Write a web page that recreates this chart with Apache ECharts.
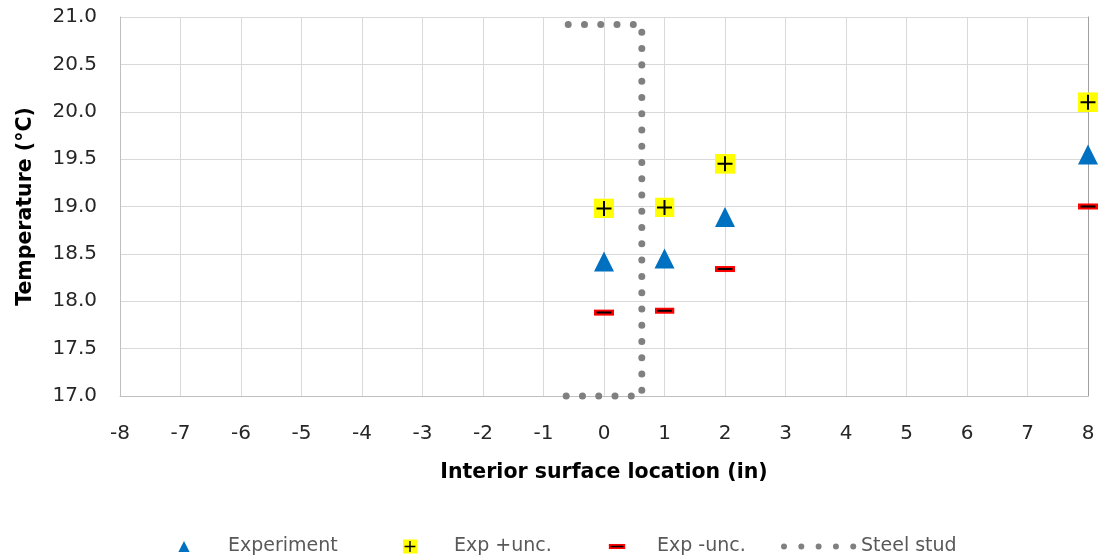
<!DOCTYPE html>
<html>
<head>
<meta charset="utf-8">
<script src="https://cdn.jsdelivr.net/npm/echarts@6/dist/echarts.min.js"></script>
<style>
  html, body { margin: 0; padding: 0; background: #ffffff; }
  #chart { width: 1099px; height: 558px; }
</style>
</head>
<body>
<div id="chart"></div>
<script>
// ---- data ----
const xLocations = [0, 1, 2, 8];
const experiment = [18.42, 18.45, 18.89, 19.55];
const expPlusUnc = [18.98, 18.99, 19.45, 20.10];
const expMinusUnc = [17.88, 17.90, 18.34, 19.00];
const studX = [-0.625, 0.625, 0.625, -0.625];
const studY = [17.0, 17.0, 20.92, 20.92];
const xTicks = [-8, -7, -6, -5, -4, -3, -2, -1, 0, 1, 2, 3, 4, 5, 6, 7, 8];
const yTicks = [17.0, 17.5, 18.0, 18.5, 19.0, 19.5, 20.0, 20.5, 21.0];
const seriesNames = ['Experiment', 'Exp +unc.', 'Exp -unc.', 'Steel stud'];

// ---- symbols ----
function svgSym(svg) {
  return 'image://data:image/svg+xml;charset=utf-8,' + encodeURIComponent(svg);
}
const plusSym = svgSym("<svg xmlns='http://www.w3.org/2000/svg' width='20' height='20' viewBox='0 0 20 20'><rect x='0' y='0' width='20' height='20' fill='#FFFF00'/><path d='M10 2.5V17.5M2.5 10H17.5' stroke='#000000' stroke-width='2' fill='none'/></svg>");
const minusSym = svgSym("<svg xmlns='http://www.w3.org/2000/svg' width='20' height='20' viewBox='0 0 20 20'><rect x='0' y='7' width='20' height='6' fill='#FF0000'/><path d='M2.5 10H17.5' stroke='#000000' stroke-width='2' fill='none'/></svg>");

function pairs(xs, ys) { return xs.map((x, i) => [x, ys[i]]); }

const FONT = 'DejaVu Sans';
const chart = echarts.init(document.getElementById('chart'), null, { renderer: 'canvas' });

const hiddenLine = { width: 0, opacity: 0 };
function legendAt(name, left, itemWidth, itemHeight, extra) {
  const item = Object.assign({ name: name }, extra || {});
  return {
    data: [item],
    left: left,
    top: 537,
    orient: 'horizontal',
    itemWidth: itemWidth,
    itemHeight: itemHeight,
    selectedMode: false,
    padding: 0,
    textStyle: { fontFamily: FONT, fontSize: 19, color: '#595959' }
  };
}

const option = {
  animation: false,
  backgroundColor: '#ffffff',
  grid: { left: 120, right: 11, top: 17, bottom: 162, containLabel: false },
  xAxis: {
    type: 'value',
    min: xTicks[0],
    max: xTicks[xTicks.length - 1],
    interval: 1,
    name: 'Interior surface location (in)',
    nameLocation: 'middle',
    nameGap: 66,
    nameTextStyle: { fontFamily: FONT, fontSize: 20.5, fontWeight: 'bold', color: '#000000' },
    axisLine: { show: true, onZero: false, lineStyle: { color: '#bfbfbf', width: 1 } },
    axisTick: { show: false },
    axisLabel: { margin: 28, fontFamily: FONT, fontSize: 20, color: '#262626' },
    splitLine: { show: true, lineStyle: { color: '#d9d9d9', width: 1 } }
  },
  yAxis: [{
    type: 'value',
    min: yTicks[0],
    max: yTicks[yTicks.length - 1],
    interval: 0.5,
    name: 'Temperature (°C)',
    nameLocation: 'middle',
    nameGap: 84,
    nameRotate: 90,
    nameTextStyle: { fontFamily: FONT, fontSize: 20.5, fontWeight: 'bold', color: '#000000' },
    axisLine: { show: true, onZero: false, lineStyle: { color: '#bfbfbf', width: 1 } },
    axisTick: { show: false },
    axisLabel: { margin: 23, fontFamily: FONT, fontSize: 20, color: '#262626',
      padding: [5, 0, 0, 0],
      formatter: v => v.toFixed(1) },
    splitLine: { show: true, lineStyle: { color: '#d9d9d9', width: 1 } }
  }, {
    type: 'value',
    position: 'right',
    min: yTicks[0],
    max: yTicks[yTicks.length - 1],
    interval: 0.5,
    axisLine: { show: true, onZero: false, lineStyle: { color: '#a0a0a0', width: 1 } },
    axisTick: { show: false },
    axisLabel: { show: false },
    splitLine: { show: false }
  }],
  legend: [
    legendAt(seriesNames[0], 145, 78, 14),
    legendAt(seriesNames[1], 371, 78, 18),
    legendAt(seriesNames[2], 582, 70, 21),
    legendAt(seriesNames[3], 781, 72, 14, { lineStyle: { width: 6, type: [0.01, 17.3], cap: 'round' } })
  ],
  series: [
    {
      name: seriesNames[3],
      type: 'line',
      data: pairs(studX, studY),
      clip: false,
      symbol: 'circle',
      showSymbol: false,
      itemStyle: { color: 'rgba(0,0,0,0)', borderWidth: 0 },
      lineStyle: { color: '#808080', width: 7, type: [0.01, 16.26], cap: 'round', join: 'round' },
      silent: true,
      z: 2
    },
    {
      name: seriesNames[0],
      type: 'line',
      data: pairs(xLocations, experiment),
      symbol: 'triangle',
      symbolSize: [20, 20],
      showSymbol: true,
      itemStyle: { color: '#0070C0', borderWidth: 0 },
      lineStyle: hiddenLine,
      silent: true,
      z: 3
    },
    {
      name: seriesNames[1],
      type: 'line',
      data: pairs(xLocations, expPlusUnc),
      symbol: plusSym,
      symbolSize: [20, 20],
      showSymbol: true,
      itemStyle: { color: '#FFFF00', borderWidth: 0 },
      lineStyle: hiddenLine,
      silent: true,
      z: 3
    },
    {
      name: seriesNames[2],
      type: 'line',
      data: pairs(xLocations, expMinusUnc),
      symbol: minusSym,
      symbolSize: [20, 20],
      showSymbol: true,
      itemStyle: { color: '#FF0000', borderWidth: 0 },
      lineStyle: hiddenLine,
      silent: true,
      z: 3
    }
  ]
};
chart.setOption(option);
</script>
</body>
</html>
